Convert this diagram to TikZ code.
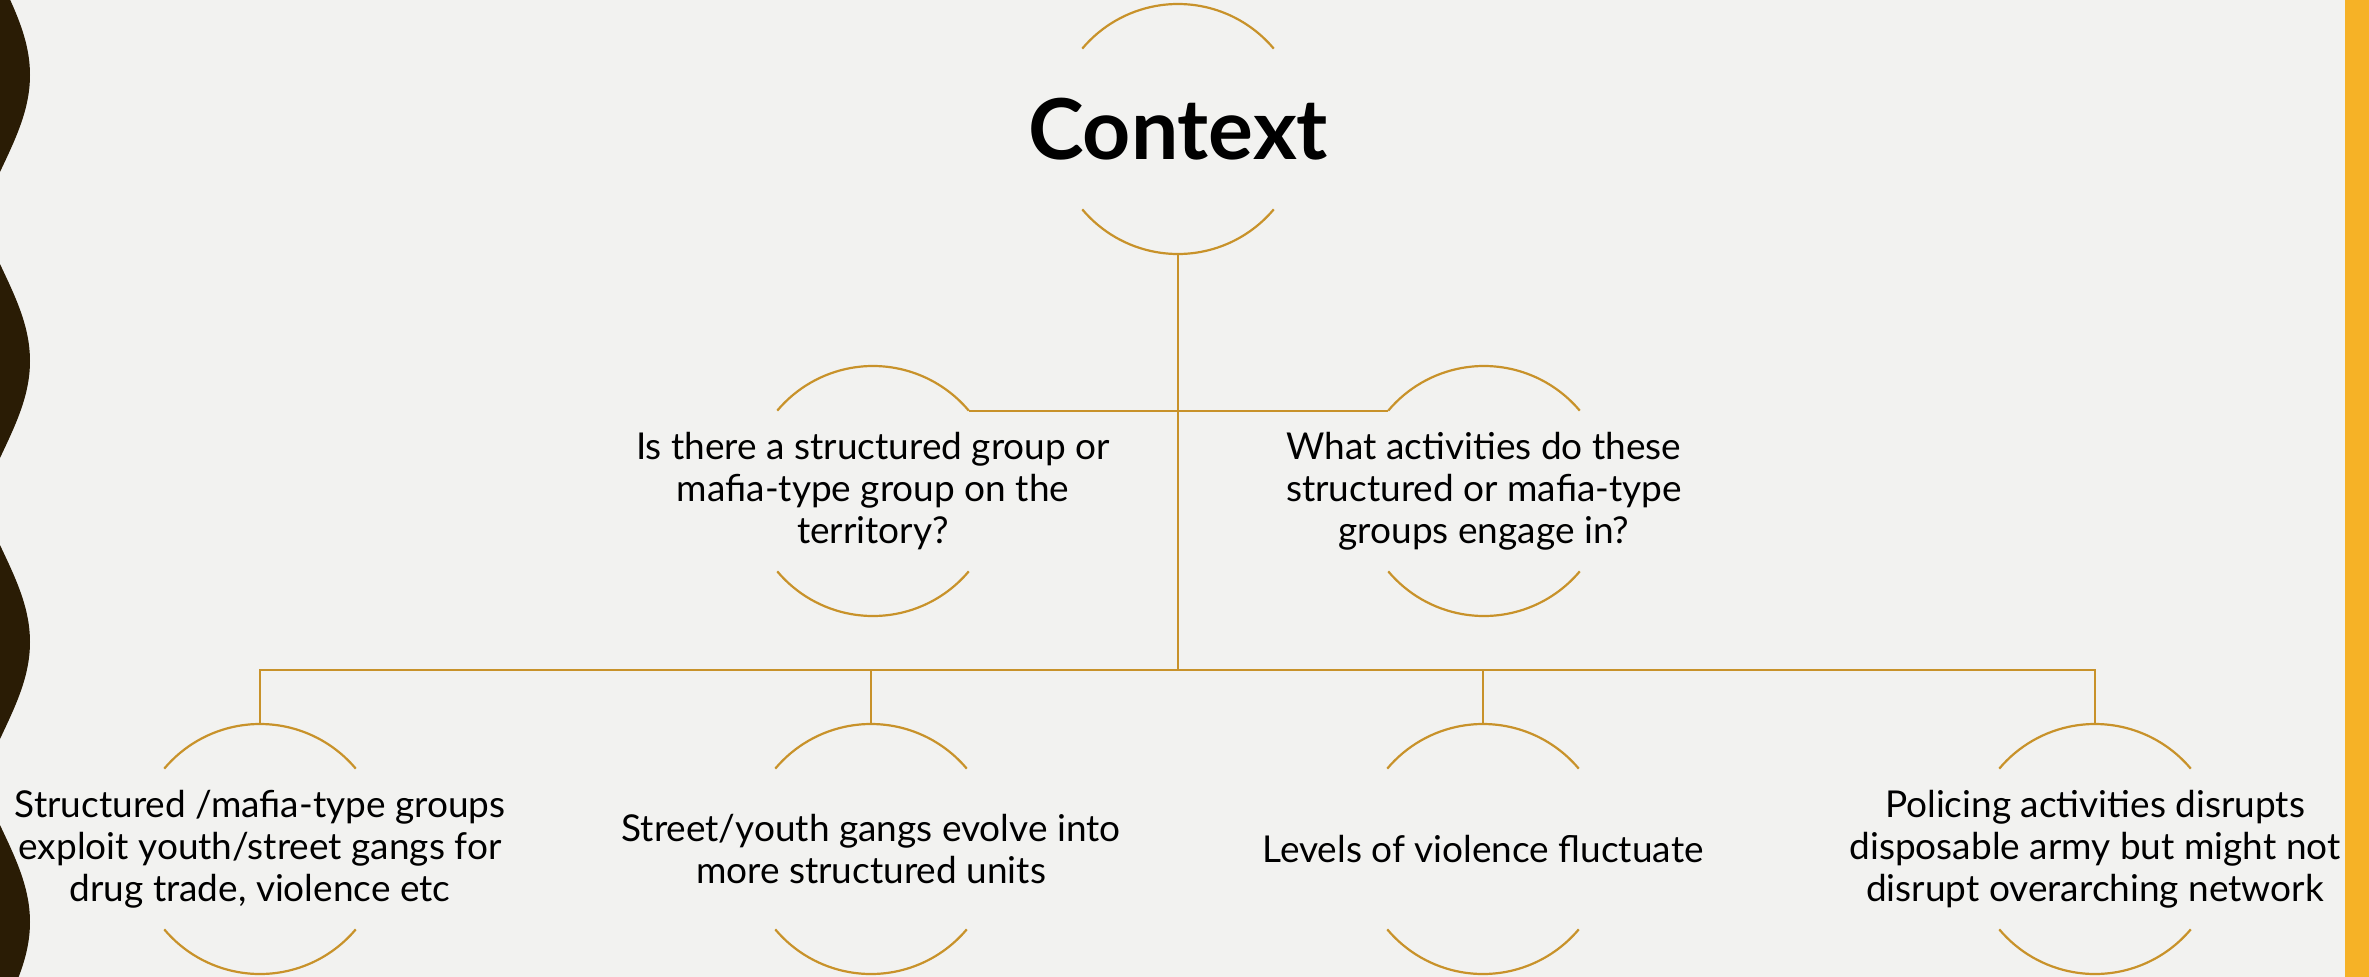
\documentclass[tikz,border=0pt]{standalone}
\usepackage{fontspec}
\setmainfont{Lato}
\usepackage{tikz}
\usetikzlibrary{calc}
\definecolor{slidebg}{HTML}{F2F2F0}
\definecolor{gold}{HTML}{C8922A}
\definecolor{barorange}{HTML}{F6B226}
\definecolor{darkedge}{HTML}{2A1C05}
\begin{document}
\begin{tikzpicture}[x=1pt,y=1pt,
	ring/.style={draw=gold,line width=2.2pt},
	link/.style={draw=gold,line width=2pt},
	title/.style={inner sep=0pt,font=\fontsize{84}{94}\selectfont\bfseries},
	topic/.style={inner sep=0pt,align=center,font=\fontsize{37}{42}\selectfont}]
	% Slide background and edges
	\fill[slidebg] (0,0) rectangle (2369,-977);
	\useasboundingbox (0,0) rectangle (2369,-977);
	\foreach \yc in {75,361,642,922}
		\fill[darkedge] (0,-\yc+97) .. controls (15,-\yc+65) and (30,-\yc+35) .. (30,-\yc)
			.. controls (30,-\yc-35) and (15,-\yc-65) .. (0,-\yc-97) -- cycle;
	\fill[barorange] (2345,0) rectangle (2369,-977);
	% Nodes
	\node[title] (ctx) at (1178,-129) {Context};
	\node[topic] (q1) at (873,-491) {Is there a structured group or\\mafia-type group on the\\territory?};
	\node[topic] (q2) at (1484,-491) {What activities do these\\structured or mafia-type\\groups engage in?};
	\node[topic] (b1) at (260,-849) {Structured /mafia-type groups\\exploit youth/street gangs for\\drug trade, violence etc};
	\node[topic] (b2) at (871,-849) {Street/youth gangs evolve into\\more structured units};
	\node[topic] (b3) at (1483,-849) {Levels of violence fluctuate};
	\node[topic] (b4) at (2095,-849) {Policing activities disrupts\\disposable army but might not\\disrupt overarching network};
	% Arcs round each node
	\foreach \n in {ctx,q1,q2,b1,b2,b3,b4}{
		\draw[ring] ($(\n.center)+(40:125pt)$) arc[start angle=40,end angle=140,radius=125pt];
		\draw[ring] ($(\n.center)+(-40:125pt)$) arc[start angle=-40,end angle=-140,radius=125pt];}
	% Connectors
	\coordinate (bus) at (1178,-670);
	\coordinate (ctxfoot) at ($(ctx.center)+(0,-125pt)$);
	\draw[link] (ctxfoot) -- (ctx.center |- bus);
	\coordinate (q1end) at ($(q1.center)+(40:125pt)$);
	\coordinate (q2end) at ($(q2.center)+(140:125pt)$);
	\draw[link] (q1end) -- (q1end -| ctx.center);
	\draw[link] (q2end) -- (q2end -| ctx.center);
	\foreach \n in {b1,b2,b3,b4}
		\draw[link] ($(\n.center)+(0,125pt)$) |- (bus);
\end{tikzpicture}
\end{document}
